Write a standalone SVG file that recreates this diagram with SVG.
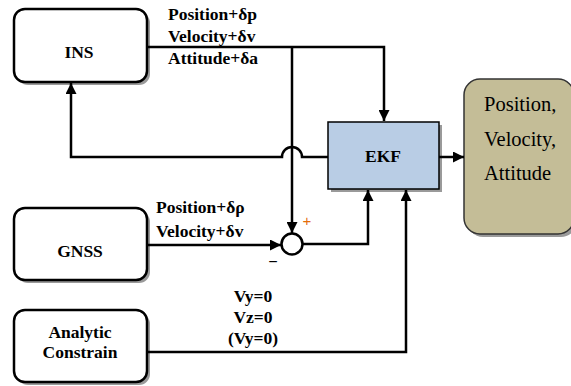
<svg xmlns="http://www.w3.org/2000/svg" width="571" height="386" viewBox="0 0 571 386">
<style>
.box{fill:#fff;stroke:#000;stroke-width:2.5}
.sh{fill:#9a9a9a}
.lbl{font-family:"Liberation Serif","Times New Roman",serif;font-weight:bold;font-size:17.5px;fill:#000}
.out{font-family:"Liberation Serif","Times New Roman",serif;font-size:20.5px;fill:#000}
.ln{fill:none;stroke:#000;stroke-width:2.5}
</style>
<defs>
<marker id="ah" viewBox="0 0 10 10" refX="10" refY="5" markerWidth="11" markerHeight="11" markerUnits="userSpaceOnUse" orient="auto">
<path d="M0,0 L10,5 L0,10 z" fill="#000"/>
</marker>
</defs>
<rect width="571" height="386" fill="#fff"/>
<g id="ins">
<rect class="sh" x="17" y="12" width="133" height="73" rx="11"/>
<rect class="box" x="14" y="9" width="133" height="73" rx="11"/>
<text class="lbl" x="79" y="58" text-anchor="middle">INS</text>
</g>
<g id="gnss">
<rect class="sh" x="17" y="211" width="133" height="72" rx="11"/>
<rect class="box" x="14" y="208" width="133" height="72" rx="11"/>
<text class="lbl" x="80" y="257" text-anchor="middle">GNSS</text>
</g>
<g id="analytic">
<rect class="sh" x="17" y="313" width="133" height="72" rx="11"/>
<rect class="box" x="14" y="310" width="133" height="72" rx="11"/>
<text class="lbl" x="80" y="338" text-anchor="middle">Analytic</text>
<text class="lbl" x="80" y="358" text-anchor="middle">Constrain</text>
</g>
<g id="ekf">
<rect class="sh" x="331" y="125" width="111" height="67"/>
<rect x="328" y="122" width="111" height="67" fill="#b9cde5" stroke="#000" stroke-width="1.5"/>
<text class="lbl" x="383" y="162" text-anchor="middle">EKF</text>
</g>
<g id="output">
<rect class="sh" x="467" y="82" width="110" height="155" rx="16"/>
<rect x="464" y="79" width="110" height="155" rx="16" fill="#c4bd97" stroke="#333" stroke-width="1.5"/>
<text class="out" x="484" y="111">Position,</text>
<text class="out" x="484" y="146">Velocity,</text>
<text class="out" x="484" y="180">Attitude</text>
</g>
<g id="sum">
<circle cx="292" cy="244" r="10.5" fill="#fff" stroke="#000" stroke-width="2.5"/>
<text x="307" y="226" font-family="Liberation Sans, Arial, sans-serif" font-size="15" fill="#e46c0a" text-anchor="middle">+</text>
<text x="273" y="267" font-family="Liberation Sans, Arial, sans-serif" font-size="16" fill="#000" text-anchor="middle">−</text>
</g>
<g id="connectors">
<path class="ln" d="M147 47 H384 V121" marker-end="url(#ah)"/>
<path class="ln" d="M292 47 V233" marker-end="url(#ah)"/>
<path class="ln" d="M328 157 H302 A10 10 0 0 0 282 157 H71 V83" marker-end="url(#ah)"/>
<path class="ln" d="M439 157 H464" marker-end="url(#ah)"/>
<path class="ln" d="M147 245 H281" marker-end="url(#ah)"/>
<path class="ln" d="M302.5 244 H368 V190" marker-end="url(#ah)"/>
<path class="ln" d="M147 352 H406 V190" marker-end="url(#ah)"/>
</g>
<g id="labels">
<text class="lbl" x="168" y="20">Position+δp</text>
<text class="lbl" x="168" y="42">Velocity+δv</text>
<text class="lbl" x="168" y="64">Attitude+δa</text>
<text class="lbl" x="156" y="213">Position+δρ</text>
<text class="lbl" x="156" y="237">Velocity+δv</text>
<text class="lbl" x="253" y="302" text-anchor="middle">Vy=0</text>
<text class="lbl" x="253" y="323" text-anchor="middle">Vz=0</text>
<text class="lbl" x="253" y="344" text-anchor="middle">(Vy=0)</text>
</g>
</svg>
